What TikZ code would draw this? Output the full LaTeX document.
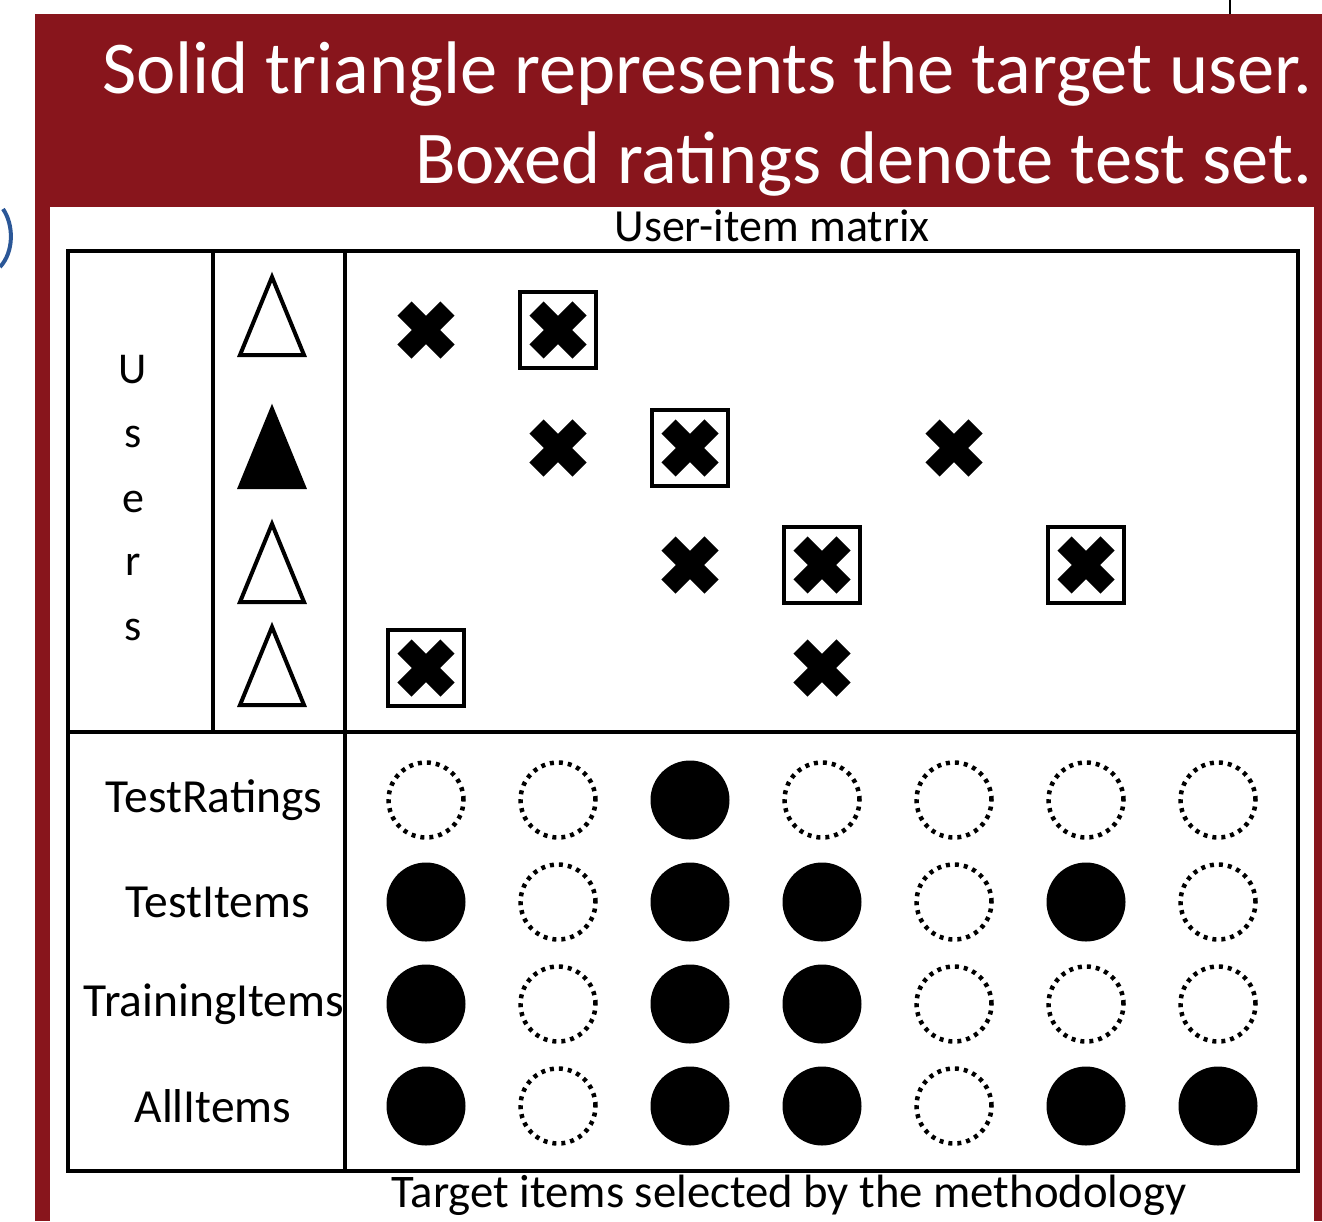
\documentclass[tikz,border=0pt]{standalone}
\usepackage{fontspec}
\setmainfont{Carlito}
\usepackage{tikz}
\definecolor{slidered}{HTML}{88151C}
\definecolor{parenblue}{HTML}{2B5797}
\tikzset{
  hit/.style = {circle, fill, inner sep = 0, minimum size = 79},
  miss/.style = {circle, draw, inner sep = 0, minimum size = 75, line width = 4.5, dash pattern = on 4 off 5},
  ratedbox/.style = {draw, inner sep = 0, minimum size = 76, line width = 4},
  letter/.style = {font = \fontsize{44}{44}\selectfont, inner sep = 0},
  rowlab/.style = {font = \fontsize{47.5}{48}\selectfont, inner sep = 0},
  headline/.style = {anchor = base east, white, inner sep = 0, font = \fontsize{74.5}{75}\selectfont},
  cross/.pic = {\draw [line width = 20] (-21.5,-21.5) -- (21.5,21.5) (-21.5,21.5) -- (21.5,-21.5);}
}

\begin{document}
\begin{tikzpicture}[x = 1pt, y = -1pt]
    \useasboundingbox (0,0) rectangle (1322,1221);

    % slide background
    \fill [slidered] (35,14) rectangle (1322,1221);
    \fill [white] (50,207) rectangle (1314,1221);
    \draw [line width = 2] (1230,0) -- (1230,14);
    \draw [parenblue, line width = 4] (3,209) .. controls (14,225) and (14,252) .. (0,267);

    \node [headline] (head1) at (1312,93) {Solid triangle represents the target user.};
    \node [headline] (head2) at (1312,183) {Boxed ratings denote test set.};

    % table frame
    \draw [line width = 4] (68,251) rectangle (1298,1171);
    \draw [line width = 4] (213,251) -- (213,732);
    \draw [line width = 4] (345,251) -- (345,1171);
    \draw [line width = 4] (68,732) -- (1298,732);

    \node [anchor = base, font = \fontsize{46}{46}\selectfont, inner sep = 0]
      (title) at (772,241) {User-item matrix};
    \node [anchor = base, font = \fontsize{46.7}{47}\selectfont, inner sep = 0]
      (caption) at (789,1207) {Target items selected by the methodology};

    % users column
    \foreach \ch/\y [count = \i] in {U/370, s/437, e/502, r/565, s/630}
      \node [letter] (user-\i) at (133,\y) {\ch};

    \foreach \y/\f [count = \i] in {355/white, 487/black, 602/white, 705/white}
      \draw [line width = 4, fill = \f] (272,\y-78) -- (304,\y) -- (240,\y) -- cycle;

    % ratings, boxed ones in the test set
    \foreach \c/\r/\b [count = \i] in {1/1/0, 2/1/1, 2/2/0, 3/2/1, 5/2/0,
                                         3/3/0, 4/3/1, 6/3/1, 1/4/1, 4/4/0} {
      \pgfmathsetmacro{\x}{426 + 132*(\c-1)}
      \pgfmathsetmacro{\y}{{330,448,565,668}[\r-1]}
      \pic at (\x,\y) {cross};
      \ifnum\b=1 \node [ratedbox] (box-\i) at (\x,\y) {}; \fi
    }

    % selected target items
    \foreach \lab/\lx/\y/\pat [count = \r] in {TestRatings/214/800/{0,0,1,0,0,0,0},
                                            TestItems/218/902/{1,0,1,1,0,1,0},
                                            TrainingItems/214/1004/{1,0,1,1,0,0,0},
                                            AllItems/213/1106/{1,0,1,1,0,1,1}} {
      \node [rowlab] (lab-\r) at (\lx,\y) {\lab};
      \foreach \f [count = \c] in \pat {
        \ifnum\f=1
          \node [hit] (item-\r-\c) at (426 + 132*\c - 132,\y) {};
        \else
          \node [miss] (item-\r-\c) at (426 + 132*\c - 132,\y) {};
        \fi
      }
    }
\end{tikzpicture}
\end{document}
